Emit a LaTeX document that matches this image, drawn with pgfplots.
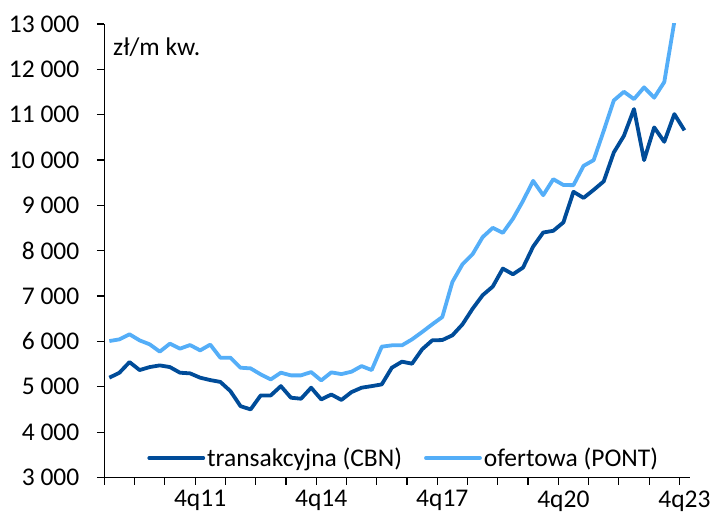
\documentclass[border=0pt]{standalone}
\usepackage{fontspec}
\setmainfont{Carlito}
\usepackage{pgfplots}
\pgfplotsset{compat=1.18}
\definecolor{darkb}{RGB}{0,76,153}
\definecolor{lightb}{RGB}{84,174,248}
\pgfplotstableread{
i v
0 5201
1 5311
2 5545
3 5369
4 5435
5 5472
6 5435
7 5311
8 5296
9 5201
10 5148
11 5108
12 4905
13 4574
14 4501
15 4810
16 4810
17 5015
18 4759
19 4737
20 4980
21 4722
22 4830
23 4710
24 4883
25 4980
26 5015
27 5053
28 5421
29 5554
30 5510
31 5826
32 6024
33 6031
34 6135
35 6377
36 6720
37 7020
38 7210
39 7607
40 7481
41 7629
42 8090
43 8402
44 8440
45 8625
46 9300
47 9165
48 9342
49 9530
50 10168
51 10534
52 11124
53 9998
54 10720
55 10402
56 11013
57 10655
}\dark
\pgfplotstableread{
i v
0 6009
1 6046
2 6157
3 6024
4 5936
5 5775
6 5951
7 5841
8 5921
9 5803
10 5930
11 5642
12 5642
13 5421
14 5406
15 5274
16 5163
17 5311
18 5252
19 5252
20 5325
21 5141
22 5318
23 5280
24 5333
25 5457
26 5369
27 5885
28 5914
29 5914
30 6046
31 6208
32 6377
33 6539
34 7311
35 7702
36 7923
37 8300
38 8505
39 8395
40 8705
41 9099
42 9541
43 9225
44 9578
45 9450
46 9446
47 9872
48 9998
49 10645
50 11315
51 11506
52 11344
53 11603
54 11375
55 11720
56 13050
}\light
\begin{document}
\begin{tikzpicture}[font=\fontsize{25.5bp}{30bp}\selectfont]
\begin{axis}[
  scale only axis,
  width=585.2bp, height=453.5bp,
  xmin=-0.5, xmax=57.5, ymin=3000, ymax=13000,
  axis lines*=left,
  axis line style={black, line width=1.3bp},
  tick align=outside,
  major tick length=7.5bp,
  tick style={black, line width=1.2bp},
  xtick={-0.5,2.5,...,56.5},
  xticklabels={},
  extra x ticks={9,21,33,45,57},
  extra x tick labels={4q11,4q14,4q17,4q20,4q23},
  extra x tick style={major tick length=7.5bp, tick style={draw=none}},
  xticklabel style={yshift=-2bp},
  ytick={3000,4000,...,13000},
  scaled y ticks=false,
  yticklabels={3 000,4 000,5 000,6 000,7 000,8 000,9 000,10 000,11 000,12 000,13 000},
  yticklabel style={xshift=-14bp},
  /pgf/number format/assume math mode=true,
  legend columns=2,
  legend style={draw=none, fill=none, at={(rel axis cs:0.5116,0.043)}, anchor=center,
    nodes={inner sep=2bp},
    /tikz/every even column/.append style={column sep=20bp}},
  legend image code/.code={\draw[#1, line cap=round] (0bp,0bp) -- (54bp,0bp);},
  every axis plot/.append style={line width=3.8bp, line join=round},
]
\addplot[darkb] table[x=i, y=v] {\dark};
\addlegendentry{transakcyjna (CBN)}
\addplot[lightb] table[x=i, y=v] {\light};
\addlegendentry{ofertowa (PONT)}
\node[anchor=base west, inner sep=0pt] at (rel axis cs:0.0149,0.9306) {zł/m kw.};
\end{axis}
\pgfresetboundingbox
\path[use as bounding box] ([shift={(-104.3bp,-41.5bp)}]current axis.south west) rectangle ([shift={(20.5bp,24bp)}]current axis.north east);
\end{tikzpicture}
\end{document}
